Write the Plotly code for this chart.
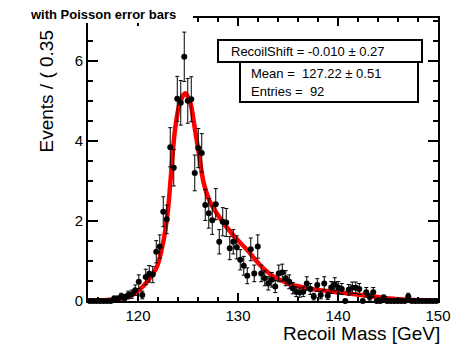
import numpy as np
import plotly.graph_objects as go

# ---------------- data ----------------
mass_low = 115.0
mass_high = 150.0
bin_width = 0.35
event_weight = 1.0 / 16.0   # weight per entry (for Poisson error bars)

events = [
    0, 0, 0, 0, 0, 0, 0, 0.06, 0.06, 0.11,
    0.09, 0.15, 0.17, 0.27, 0.48, 0.15, 0.60, 0.68, 0.66, 1.23,
    1.36, 2.23, 2.04, 3.84, 3.33, 5.05, 4.95, 6.10, 5.00, 5.04,
    3.20, 3.82, 3.70, 2.40, 2.19, 2.02, 2.42, 1.48, 1.98, 1.96,
    1.32, 1.48, 1.34, 1.03, 0.88, 0.63, 1.29, 0.69, 1.36, 0.69,
    0.57, 0.44, 0.53, 0.36, 0.69, 0.71, 0.57, 0.48, 0.32, 0.23,
    0.21, 0.23, 0.44, 0.30, 0.11, 0.40, 0.15, 0.44, 0.13, 0.34,
    0.42, 0.34, 0.30, 0, 0.28, 0.33, 0.33, 0.30, 0, 0.22,
    0.10, 0.22, 0, 0, 0.08, 0, 0, 0, 0, 0,
    0, 0.11, 0, 0, 0, 0, 0, 0, 0, 0,
]

fit_mass = [115.0, 116.5, 118.0, 119.0, 119.5, 120.0, 120.9, 121.9, 122.5, 123.0,
            123.25, 123.7, 124.2, 124.7, 125.2, 125.7, 126.2, 126.55, 127.2, 128.2,
            129.5, 130.9, 132.2, 133.5, 135.2, 136.9, 138.9, 140.9, 142.9, 144.9,
            146.9, 148.5, 150.0]
fit_events = [0.01, 0.02, 0.05, 0.10, 0.17, 0.25, 0.48, 0.86, 1.44, 2.28,
              3.00, 4.28, 4.96, 5.19, 4.98, 4.28, 3.50, 2.97, 2.48, 2.07,
              1.65, 1.28, 0.90, 0.62, 0.42, 0.32, 0.25, 0.19, 0.13, 0.07,
              0.03, 0.02, 0.02]

x_ticks = [120, 130, 140, 150]
y_ticks = [0, 2, 4, 6]

stats_lines = ["RecoilShift = -0.010 \u00b1 0.27",
               "Mean =\u00a0 127.22 \u00b1 0.51",
               "Entries =\u00a0 92"]

# ---------------- derived ----------------
vals = np.array(events, dtype=float)
centers = mass_low + bin_width * (np.arange(len(vals)) + 0.5)
counts = vals / event_weight
err = np.sqrt(counts) * event_weight

W, H = 465, 348
L, R, T, B = 88, 27, 18, 47
pw, ph = W - L - R, H - T - B

def px(X):
    return (X - L) / pw

def py(Y):
    return (H - B - Y) / ph

fig = go.Figure()

fig.add_trace(go.Scatter(
    x=fit_mass, y=fit_events, mode="lines",
    line=dict(color="#ff0000", width=4.5, shape="spline", smoothing=0.8),
    hoverinfo="skip"))

fig.add_trace(go.Scatter(
    x=centers, y=vals, mode="markers",
    marker=dict(color="black", size=6),
    error_y=dict(type="data", array=err, color="black", thickness=1, width=2),
    cliponaxis=False))

font = "Liberation Sans, Arial, Helvetica, sans-serif"

fig.update_layout(
    width=W, height=H,
    margin=dict(l=L, r=R, t=T, b=B),
    plot_bgcolor="white", paper_bgcolor="white",
    showlegend=False,
    font=dict(family=font, color="black", size=15),
    xaxis=dict(range=[mass_low, mass_high], showline=True, linecolor="black", linewidth=2,
               mirror="ticks", ticks="inside", ticklen=8, tickwidth=2, tickcolor="black",
               tickvals=x_ticks, showgrid=False, zeroline=False,
               minor=dict(dtick=2, tick0=0, ticks="inside", ticklen=4, tickwidth=2,
                          tickcolor="black", showgrid=False),
               tickfont=dict(size=15)),
    yaxis=dict(range=[0, 7.07], showline=True, linecolor="black", linewidth=2,
               mirror="ticks", ticks="inside", ticklen=10, tickwidth=2, tickcolor="black",
               tickvals=y_ticks, showgrid=False, zeroline=False,
               minor=dict(dtick=0.5, tick0=0, ticks="inside", ticklen=5, tickwidth=2,
                          tickcolor="black", showgrid=False),
               tickfont=dict(size=15)),
)

shapes = [
    dict(type="rect", xref="paper", yref="paper", x0=px(80), x1=px(193), y0=py(23), y1=py(10),
         fillcolor="white", line=dict(width=0), layer="above"),
    dict(type="rect", xref="paper", yref="paper", x0=px(240), x1=px(418), y0=py(102), y1=py(62),
         fillcolor="white", line=dict(color="black", width=2), layer="above"),
    dict(type="rect", xref="paper", yref="paper", x0=px(218), x1=px(422), y0=py(62), y1=py(40),
         fillcolor="white", line=dict(color="black", width=2), layer="above"),
]
fig.update_layout(shapes=shapes)

ann = [
    dict(text="<b>with Poisson error bars</b>", x=px(28), y=py(15), xref="paper", yref="paper",
         xanchor="left", yanchor="middle", showarrow=False, font=dict(size=13, family=font)),
    dict(text="Recoil Mass [GeV]", x=px(442), y=py(333), xref="paper", yref="paper",
         xanchor="right", yanchor="middle", showarrow=False, font=dict(size=19, family=font)),
    dict(text="Events / ( 0.35", x=px(46), y=py(28), xref="paper", yref="paper",
         xanchor="center", yanchor="top", textangle=-90, showarrow=False,
         font=dict(size=19, family=font)),
    dict(text=stats_lines[0], x=px(229), y=py(51), xref="paper", yref="paper",
         xanchor="left", yanchor="middle", showarrow=False, font=dict(size=13, family=font)),
    dict(text=stats_lines[1], x=px(249), y=py(73), xref="paper", yref="paper",
         xanchor="left", yanchor="middle", showarrow=False, font=dict(size=13, family=font)),
    dict(text=stats_lines[2], x=px(249), y=py(92), xref="paper", yref="paper",
         xanchor="left", yanchor="middle", showarrow=False, font=dict(size=13, family=font)),
]
fig.update_layout(annotations=ann)

fig.write_html("out.html", config={"displayModeBar": False},
               post_script="document.body.style.margin='0px';document.body.style.overflow='hidden';")
